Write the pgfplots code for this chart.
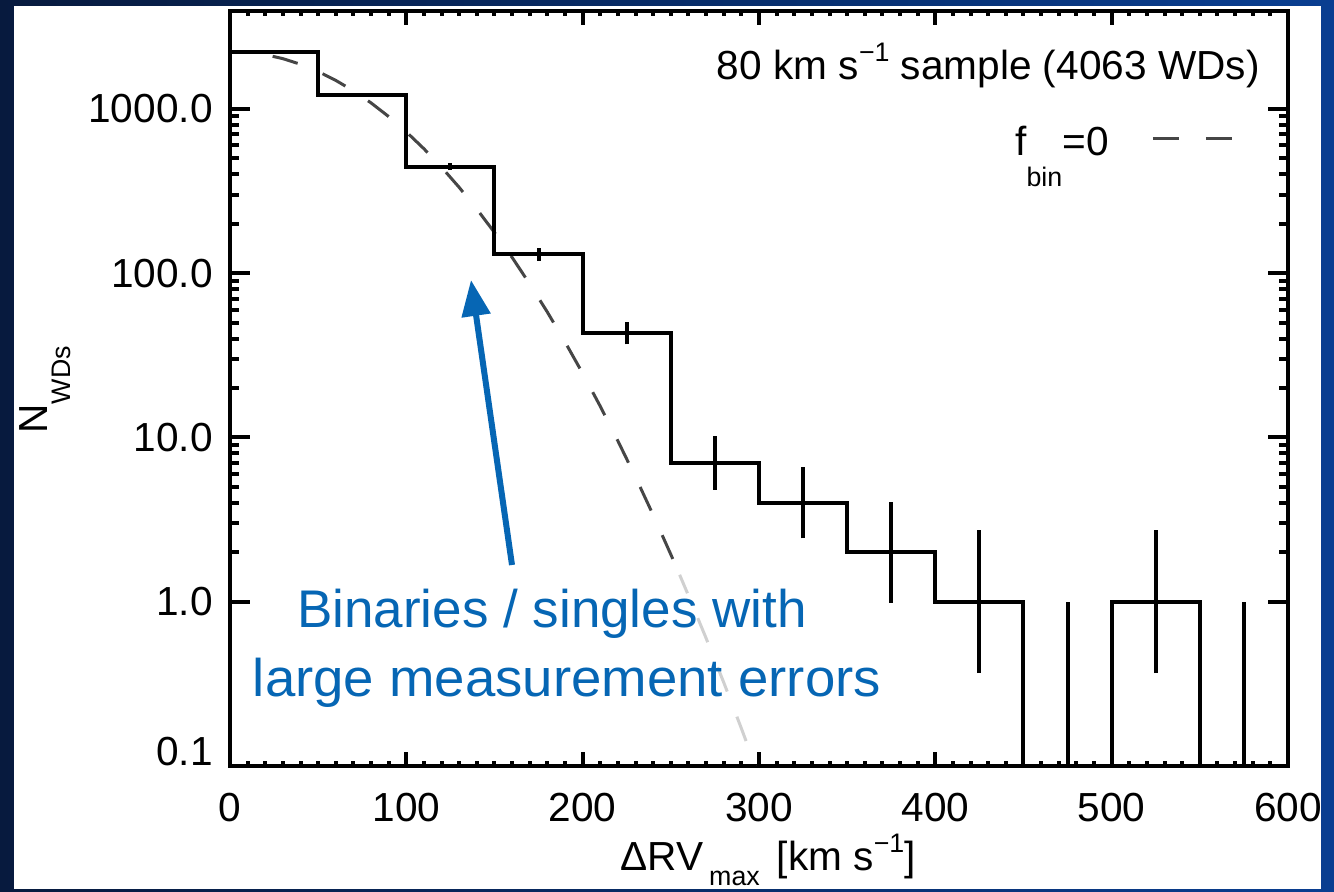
\documentclass[border=0pt]{standalone}
\usepackage{pgfplots}
\pgfplotsset{compat=1.18}
\usepackage{pgfplotstable}
\usepackage{fontspec}
\setmainfont{Liberation Sans}
\usetikzlibrary{arrows.meta}
\definecolor{bluetxt}{RGB}{6,102,180}
\definecolor{dashgray}{RGB}{70,70,70}
\definecolor{lightdash}{RGB}{208,208,208}
\definecolor{bgdark}{RGB}{7,26,62}
\definecolor{bgblue}{RGB}{9,62,145}
\newcommand{\mainsize}{\fontsize{20.3pt}{24pt}\selectfont}
\newcommand{\subsize}{\fontsize{13.4pt}{16pt}\selectfont}

\pgfplotstableread{
x y
0 2238.7
10 2213.6
20 2140
30 2022
40 1869
50 1689
60 1491
70 1288
80 1087.5
90 897.6
100 724.4
110 571.7
120 441.0
130 332.6
140 245.2
150 176.8
160 124.6
170 85.9
180 57.9
190 38.1
200 24.55
210 15.46
220 9.515
230 5.727
240 3.371
250 1.939
255 1.458
260 1.090
270 0.5997
280 0.3225
290 0.1695
300 0.0871
}\modeltable

\pgfplotstableread{
x y
0 2225
50 1217
100 444
150 130
200 43
250 7
300 4
350 2
400 1
450 1
450 0.05
}\histA

\begin{document}
\mainsize
\begin{tikzpicture}
\useasboundingbox (0,0) rectangle (667pt,446pt);
\shade[left color=bgdark, right color=bgblue] (0,0) rectangle (667pt,446pt);
\fill[white] (7pt,1.5pt) rectangle (660.5pt,443pt);
\begin{axis}[
  at={(115pt,63pt)}, anchor=south west,
  scale only axis, width=529pt, height=377.5pt,
  xmin=0, xmax=600, ymode=log, ymin=0.1, ymax=3945,
  axis line style={line width=2pt},
  tick align=inside,
  xtick pos=both, ytick pos=both,
  xticklabel pos=lower, yticklabel pos=left,
  xtick={0,100,200,300,400,500,600},
  xticklabels={0,100,200,300,400,500,600},
  minor x tick num=9,
  ytick={1,10,100,1000},
  yticklabels={1.0,10.0,100.0,1000.0},
  extra y ticks={0.1},
  extra y tick labels={0.1},
  extra y tick style={yticklabel style={yshift=7pt}},
  every major x tick/.append style={/pgfplots/major tick length=7pt},
  every minor x tick/.append style={/pgfplots/minor tick length=2.5pt},
  every major y tick/.append style={/pgfplots/major tick length=10pt},
  every minor y tick/.append style={/pgfplots/minor tick length=4.5pt},
  major tick style={line width=2pt, black},
  minor tick style={line width=2pt, black},
  xticklabel style={font=\mainsize, anchor=base, inner sep=0pt, yshift=-28pt},
  yticklabel style={font=\mainsize, anchor=east, inner sep=0pt, xshift=-8.5pt},
  clip=true,
]
\addplot[dashgray, line width=1.5pt, dash pattern=on 13pt off 13.5pt, dash phase=5pt, restrict x to domain=0:255] table[x=x,y=y] {\modeltable};
\addplot[lightdash, line width=1.5pt, dash pattern=on 13pt off 13.5pt, dash phase=3pt, restrict x to domain=255:300] table[x=x,y=y] {\modeltable};
\addplot[black, line width=2pt, const plot, line join=miter, mark=none] table[x=x,y=y] {\histA};
\addplot[black, line width=2pt, sharp plot, line join=miter, mark=none] coordinates {(500,0.05) (500,1) (550,1) (550,0.05)};
\addplot[black, line width=2pt, mark=none, unbounded coords=jump] coordinates {
(25,2178) (25,2273) (25,nan)
(75,1183) (75,1252) (75,nan)
(125,423.4) (125,465.6) (125,nan)
(175,119.1) (175,141.9) (175,nan)
(225,36.9) (225,50.1) (225,nan)
(275,4.80) (275,10.2) (275,nan)
(325,2.43) (325,6.59) (325,nan)
(375,0.986) (375,4.06) (375,nan)
(425,0.368) (425,2.718) (425,nan)
(475,0.05) (475,1) (475,nan)
(525,0.368) (525,2.718) (525,nan)
(575,0.05) (575,1)
};
\addplot[dashgray, line width=1.5pt, dash pattern=on 13pt off 13.5pt] coordinates {(523.4,656.9) (568.2,656.9)};
\end{axis}
% texts
\node[anchor=base east, inner sep=0pt] at (630pt,406pt) {80 km s\raisebox{9pt}{\subsize −1} sample (4063 WDs)};
\node[anchor=base east, inner sep=0pt] at (554.5pt,368pt) {f\raisebox{-15.5pt}{\subsize bin}=0};
\node[anchor=base west, inner sep=0pt] at (310pt,10.5pt) {ΔRV\hspace{3pt}\raisebox{-7.5pt}{\subsize max}\hspace{8.5pt}[km s\raisebox{9pt}{\subsize −1}]};
\node[rotate=90, anchor=base west, inner sep=0pt] at (23.5pt,229pt) {N\raisebox{-11.5pt}{\subsize WDs}};
% annotation
\draw[bluetxt, line width=3pt, -{Triangle[length=18pt, width=14pt]}] (256pt,163.5pt) -- (235.5pt,306pt);
\node[anchor=base, inner sep=0pt, text=bluetxt, font=\fontsize{26.5pt}{30pt}\selectfont] at (276pt,132pt) {Binaries / singles with};
\node[anchor=base, inner sep=0pt, text=bluetxt, font=\fontsize{26.5pt}{30pt}\selectfont] at (283.5pt,97.5pt) {\scalebox{1.03}[1]{large measurement errors}};
\end{tikzpicture}
\end{document}
